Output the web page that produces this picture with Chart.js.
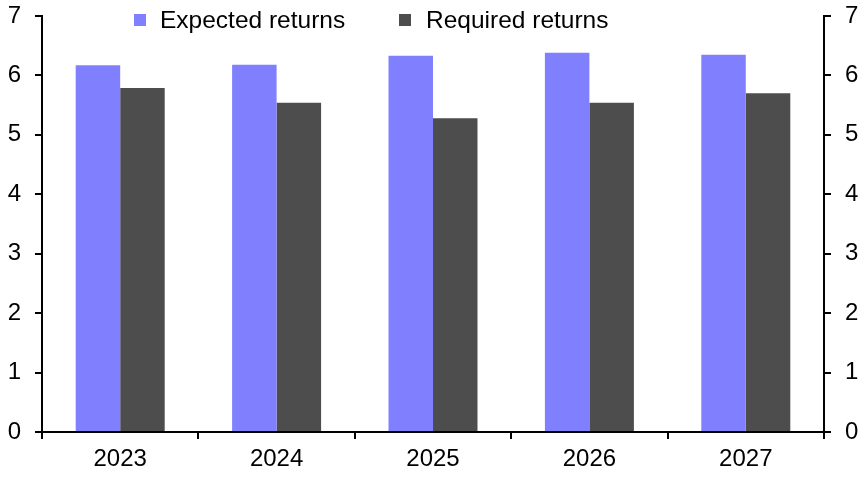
<!DOCTYPE html>
<html lang="en">
  <head>
    <meta charset="UTF-8" />
    <title>Expected vs required returns</title>
    <script src="https://cdn.jsdelivr.net/npm/chart.js"></script>
    <style>
      html, body {
        margin: 0;
        padding: 0;
        background: #ffffff;
      }
      #wrap {
        width: 865px;
        height: 482px;
        position: relative;
      }
    </style>
  </head>
  <body>
    <div id="wrap">
      <canvas id="returnsChart" width="865" height="482"></canvas>
    </div>

    <script>
      // Data
      const years = ["2023", "2024", "2025", "2026", "2027"];
      const expectedReturns = [6.17, 6.18, 6.33, 6.38, 6.35];
      const requiredReturns = [5.79, 5.54, 5.28, 5.54, 5.70];
      const yTicks = [0, 1, 2, 3, 4, 5, 6, 7];

      const FONT = "'Liberation Sans', Arial, sans-serif";

      // Legend drawn inside the plot area, like the original
      const insideLegend = {
        id: "insideLegend",
        afterDraw(chart) {
          const ctx = chart.ctx;
          const spots = [
            { box: 134, text: 160 },
            { box: 399, text: 426 },
          ];
          ctx.save();
          ctx.font = "24.5px " + FONT;
          ctx.textBaseline = "middle";
          chart.data.datasets.forEach((ds, i) => {
            const s = spots[i];
            ctx.fillStyle = ds.backgroundColor;
            ctx.fillRect(s.box, 14, 12, 12);
            ctx.fillStyle = "#000";
            ctx.fillText(ds.label, s.text, 21);
          });
          ctx.restore();
        },
      };

      function yAxis(position, width) {
        return {
          type: "linear",
          position: position,
          min: 0,
          max: 7,
          afterBuildTicks: (axis) => {
            axis.ticks = yTicks.map((v) => ({ value: v }));
          },
          afterFit: (axis) => {
            axis.width = width;
            // let the top/bottom labels hang over the edges of the plot
            axis.paddingTop = 0;
            axis.paddingBottom = 0;
          },
          grid: {
            drawOnChartArea: false,
            drawTicks: true,
            tickLength: 7,
            color: "#000",
            lineWidth: 2,
          },
          border: { display: true, color: "#000", width: 2 },
          ticks: {
            color: "#000",
            padding: 14,
            font: { family: FONT, size: 24 },
          },
        };
      }

      new Chart(document.getElementById("returnsChart").getContext("2d"), {
        type: "bar",
        data: {
          labels: years,
          datasets: [
            {
              label: "Expected returns",
              data: expectedReturns,
              backgroundColor: "#8080ff",
              yAxisID: "y",
            },
            {
              label: "Required returns",
              data: requiredReturns,
              backgroundColor: "#4d4d4d",
              yAxisID: "y",
            },
          ],
        },
        options: {
          responsive: false,
          animation: false,
          layout: { padding: { top: 16, left: 0, right: 0, bottom: 0 } },
          categoryPercentage: 0.569,
          barPercentage: 1.0,
          plugins: {
            legend: { display: false },
            tooltip: { enabled: false },
          },
          scales: {
            x: {
              offset: true,
              afterFit: (axis) => {
                axis.height = 50;
                axis.paddingLeft = 0;
                axis.paddingRight = 0;
              },
              grid: {
                offset: true,
                drawOnChartArea: false,
                drawTicks: true,
                tickLength: 7,
                color: "#000",
                lineWidth: 2,
              },
              border: { display: true, color: "#000", width: 2 },
              ticks: {
                color: "#000",
                padding: 6,
                maxRotation: 0,
                font: { family: FONT, size: 24 },
              },
            },
            y: yAxis("left", 42),
            y2: yAxis("right", 41),
          },
        },
        plugins: [insideLegend],
      });
    </script>
  </body>
</html>
